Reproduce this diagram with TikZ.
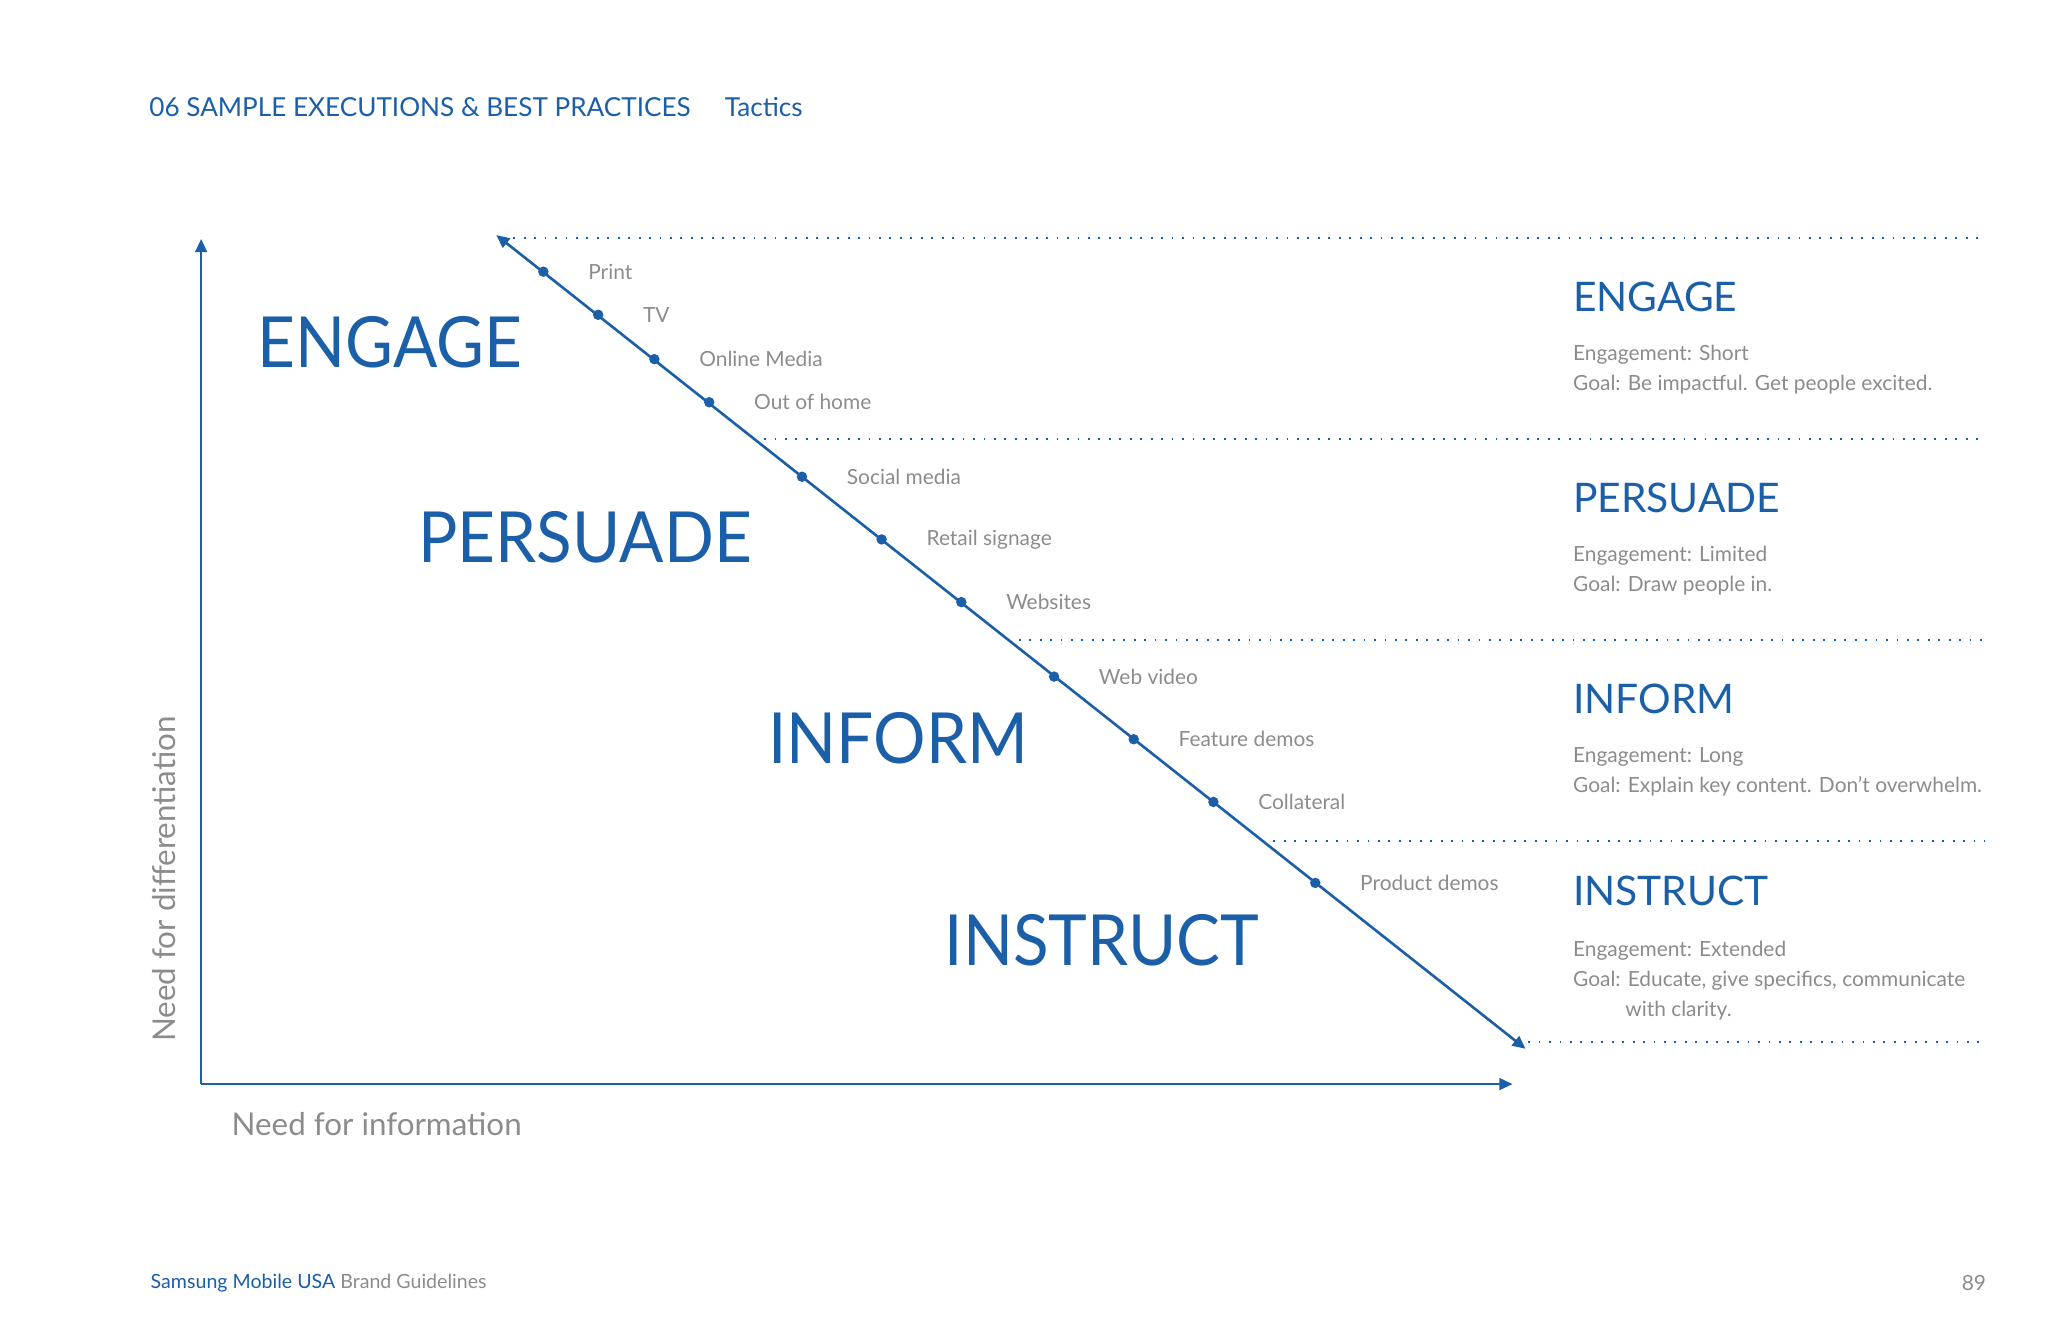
\documentclass[tikz,border=0pt]{standalone}
\usepackage{fontspec}
\setmainfont{Lato}
\usetikzlibrary{arrows.meta}
\definecolor{sblue}{HTML}{1B5FA8}
\definecolor{sgray}{HTML}{8C8C8C}
\begin{document}
\begin{tikzpicture}[x=0.5pt,y=-0.5pt,
  big/.style={text=sblue,font=\fontsize{27}{30}\selectfont,inner sep=0,xscale=0.93},
  head/.style={text=sblue,font=\fontsize{15.6}{18}\selectfont,anchor=west,inner sep=0},
  desc/.style={text=sgray,font=\fontsize{8.0}{11.5}\selectfont,anchor=north west,inner sep=0,align=left},
  lbl/.style={text=sgray,font=\fontsize{8.0}{10}\selectfont,anchor=west,inner sep=0},
  dotl/.style={sblue,line width=0.7pt,dash pattern=on 0.7pt off 3.3pt},
  pt/.style={circle,fill=sblue,inner sep=0,minimum size=4pt}]
\useasboundingbox[fill=white] (0,0) rectangle (1568,1015);
\node[text=sblue,font=\fontsize{10}{11}\selectfont,anchor=west,inner sep=0] (hd) at (114,82) {06 SAMPLE EXECUTIONS \& BEST PRACTICES\hspace{1.3em}Tactics};
% axes
\coordinate (o) at (154,830);
\coordinate (yt) at (154,183);
\coordinate (xt) at (1158,830);
\draw[sblue,line width=0.8pt,-{Triangle[length=5pt,width=4.5pt]}] (o) -- (yt);
\draw[sblue,line width=0.8pt,-{Triangle[length=5pt,width=4.5pt]}] (o) -- (xt);
\node[text=sgray,font=\fontsize{12}{13}\selectfont,rotate=90,anchor=west,inner sep=0] (yl) at (126,798) {Need for differentiation};
\node[text=sgray,font=\fontsize{12}{13}\selectfont,anchor=west,inner sep=0] (xl) at (177,861) {Need for information};
% dotted lines
\foreach \y/\x in {182/385,336/585,490/780,644/975,798/1170}
  \draw[dotl] (\x,\y) -- (1520,\y);
% diagonal
\coordinate (da) at (380,180);
\coordinate (db) at (1168,803);
\draw[sblue,line width=1pt,{Triangle[length=5pt,width=4.5pt]}-{Triangle[length=5pt,width=4.5pt]}] (da) -- (db);
\foreach \x/\y/\t [count=\i] in {416/208/Print,458/241/TV,501/275/Online Media,543/308/Out of home,614/365/Social media,675/413/Retail signage,736/461/Websites,807/518/Web video,868/566/Feature demos,929/614/Collateral,1007/676/Product demos}{
  \node[pt] (p\i) at (\x,\y) {};
  \node[lbl] (l\i) at (\x+34,\y) {\t};
}
% big labels
\node[big,anchor=west] (e) at (197,262) {ENGAGE};
\node[big,anchor=west] (p) at (320,411) {PERSUADE};
\node[big,anchor=west] (i) at (588,565) {INFORM};
\node[big,anchor=west] (s) at (723,720) {INSTRUCT};
% right column
\node[head] (h1) at (1204,227) {ENGAGE};
\node[desc] (d1) at (1204,264) {Engagement: Short\\Goal: Be impactful. Get people excited.};
\node[head] (h2) at (1204,381) {PERSUADE};
\node[desc] (d2) at (1204,418) {Engagement: Limited\\Goal: Draw people in.};
\node[head] (h3) at (1204,535) {INFORM};
\node[desc] (d3) at (1204,572) {Engagement: Long\\Goal: Explain key content. Don’t overwhelm.};
\node[head] (h4) at (1204,682) {INSTRUCT};
\node[desc] (d4) at (1204,720) {Engagement: Extended\\Goal: Educate, give specifics, communicate\\\hspace{2.5em}with clarity.};
% footer
\node[anchor=west,inner sep=0,font=\fontsize{7.5}{9}\selectfont] (ft) at (115,982) {\textcolor{sblue}{Samsung Mobile USA} \textcolor{sgray}{Brand Guidelines}};
\node[anchor=east,inner sep=0,text=sgray,font=\fontsize{8}{9}\selectfont] (pg) at (1521,982) {89};
\end{tikzpicture}
\end{document}
